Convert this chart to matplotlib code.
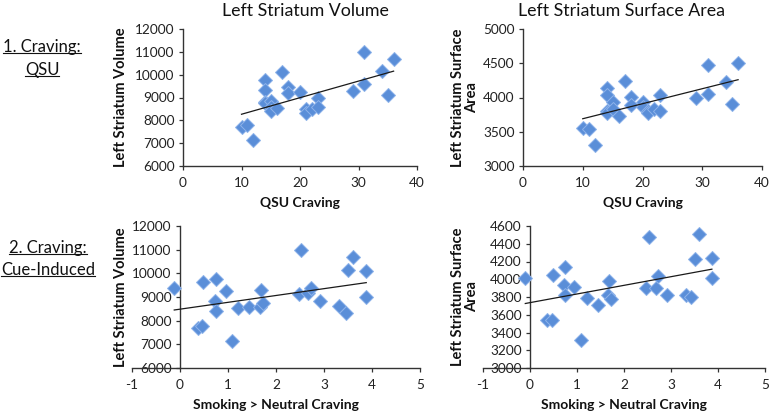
import numpy as np
import matplotlib
matplotlib.use("Agg")
import matplotlib.pyplot as plt
from matplotlib.lines import Line2D

plt.rcParams['font.family'] = ['Lato', 'DejaVu Sans']
plt.rcParams['axes.unicode_minus'] = False

# QSU craving vs left striatum volume / surface area
qsu_vol = [10, 11, 12, 14, 14, 14, 14, 15, 15, 15, 16, 17, 18, 18, 20, 21, 21, 22, 23, 23, 29, 31, 31, 34, 35, 36]
volume_qsu = [7700, 7800, 7150, 9750, 9350, 8800, 8750, 8850, 8600, 8400, 8550, 10100, 9450, 9200,
              9250, 8500, 8300, 8500, 9000, 8600, 9300, 11000, 9600, 10150, 9100, 10700]
qsu_area = [10, 11, 12, 14, 14, 14, 14, 15, 15, 16, 17, 18, 18, 20, 20, 21, 21, 22, 23, 23, 29, 31, 31, 34, 35, 36]
area_qsu = [3550, 3540, 3310, 4140, 4030, 3810, 3770, 3930, 3830, 3725, 4240, 4010, 3890, 3930,
            3860, 3800, 3770, 3830, 3810, 4030, 3990, 4480, 4050, 4220, 3900, 4500]

# cue-induced craving (smoking > neutral) vs volume / surface area
cue_vol = [-0.12, 0.37, 0.46, 0.48, 0.72, 0.75, 0.75, 0.95, 1.09, 1.2, 1.44, 1.67, 1.69, 1.73,
           2.48, 2.53, 2.66, 2.73, 2.91, 3.32, 3.46, 3.5, 3.6, 3.87, 3.88]
volume_cue = [9400, 7680, 7770, 9620, 8830, 9760, 8420, 9270, 7150, 8520, 8590, 8560, 9300, 8760,
              9130, 10990, 9180, 9370, 8830, 8620, 8340, 10140, 10700, 9010, 10110]
cue_area = [-0.1, 0.36, 0.46, 0.48, 0.72, 0.75, 0.74, 0.94, 1.08, 1.21, 1.45, 1.66, 1.69, 1.73,
            2.47, 2.53, 2.68, 2.72, 2.91, 3.32, 3.42, 3.5, 3.6, 3.87, 3.87]
area_cue = [4010, 3540, 3540, 4050, 3940, 4140, 3820, 3910, 3315, 3785, 3710, 3820, 3985, 3775,
            3900, 4480, 3905, 4035, 3820, 3820, 3800, 4225, 4510, 4245, 4015]

fig = plt.figure(figsize=(7.71, 4.17), dpi=100)

W, H = 771.0, 417.0
def box(x0, x1, ytop, ybot):
    return [x0 / W, 1 - ybot / H, (x1 - x0) / W, (ybot - ytop) / H]

panels = [
    (box(183, 417, 29, 166), qsu_vol, volume_qsu, (0, 40), np.arange(0, 41, 10), (6000, 12000), np.arange(6000, 12001, 1000),
     'QSU Craving', 'Left Striatum Volume'),
    (box(523, 762, 29, 166), qsu_area, area_qsu, (0, 40), np.arange(0, 41, 10), (3000, 5000), np.arange(3000, 5001, 500),
     'QSU Craving', 'Left Striatum Surface\nArea'),
    (box(132, 420, 226, 368), cue_vol, volume_cue, (-1, 5), np.arange(-1, 6, 1), (6000, 12000), np.arange(6000, 12001, 1000),
     'Smoking > Neutral Craving', 'Left Striatum Volume'),
    (box(483, 765, 226, 368), cue_area, area_cue, (-1, 5), np.arange(-1, 6, 1), (3000, 4600), np.arange(3000, 4601, 200),
     'Smoking > Neutral Craving', 'Left Striatum Surface\nArea'),
]

ylab_x = [121, 465, 121, 465]
axes = []
for i, (pos, x, y, xl, xt, yl, yt, xlab, ylab) in enumerate(panels):
    ax = fig.add_axes(pos)
    axes.append(ax)
    x = np.array(x); y = np.array(y)
    ax.plot(x, y, linestyle='none', marker='D', markersize=6.9,
            markerfacecolor='#5A8ED8', markeredgecolor='#8DB3EA', markeredgewidth=0.7, zorder=3)
    # linear trendline over data range
    k, b = np.polyfit(x, y, 1)
    xx = np.array([x.min(), x.max()])
    ax.plot(xx, k * xx + b, color='#1a1a1a', linewidth=0.9, zorder=4)
    ax.set_xlim(*xl)
    ax.set_ylim(*yl)
    ax.set_xticks(xt)
    ax.set_yticks(yt)
    ax.spines['top'].set_visible(False)
    ax.spines['right'].set_visible(False)
    ax.spines['left'].set_position(('data', 0))
    for s in ('left', 'bottom'):
        ax.spines[s].set_color('#333333')
        ax.spines[s].set_linewidth(1.0)
    ax.tick_params(direction='out', length=3, width=0.9, color='#333333',
                   labelsize=9.8, labelcolor='#222222')
    ax.tick_params(axis='x', pad=5)
    ax.tick_params(axis='y', pad=3)
    ax.set_xlabel(xlab, fontsize=10, fontweight='bold', color='#111111', labelpad=6)
    ax.patch.set_alpha(0)
    cy = (pos[1] + pos[3] / 2)
    fig.text(ylab_x[i] / W, cy, ylab, rotation=90, ha='center', va='center',
             fontsize=10.5, fontweight='bold', color='#111111', linespacing=1.0)

fig.text(305 / W, 1 - 11 / H, 'Left Striatum Volume', ha='center', va='center', fontsize=12.8, color='#111111')
fig.text(622 / W, 1 - 11 / H, 'Left Striatum Surface Area', ha='center', va='center', fontsize=12.8, color='#111111')

row_labels = [('1. Craving:', 42, 47), ('QSU', 42, 70), ('2. Craving:', 48, 248), ('Cue-Induced', 48, 270)]
texts = []
for s, x, y in row_labels:
    t = fig.text(x / W, 1 - y / H, s, ha='center', va='center', fontsize=12, color='#111111')
    texts.append(t)

# underline the row labels
fig.canvas.draw()
r = fig.canvas.get_renderer()
for t in texts:
    bb = t.get_window_extent(r).transformed(fig.transFigure.inverted())
    yy = bb.y0 + 0.1 * bb.height
    fig.lines.append(Line2D([bb.x0, bb.x1], [yy, yy], transform=fig.transFigure,
                            color='#111111', linewidth=0.8))

fig.savefig('out.png', dpi=100)
